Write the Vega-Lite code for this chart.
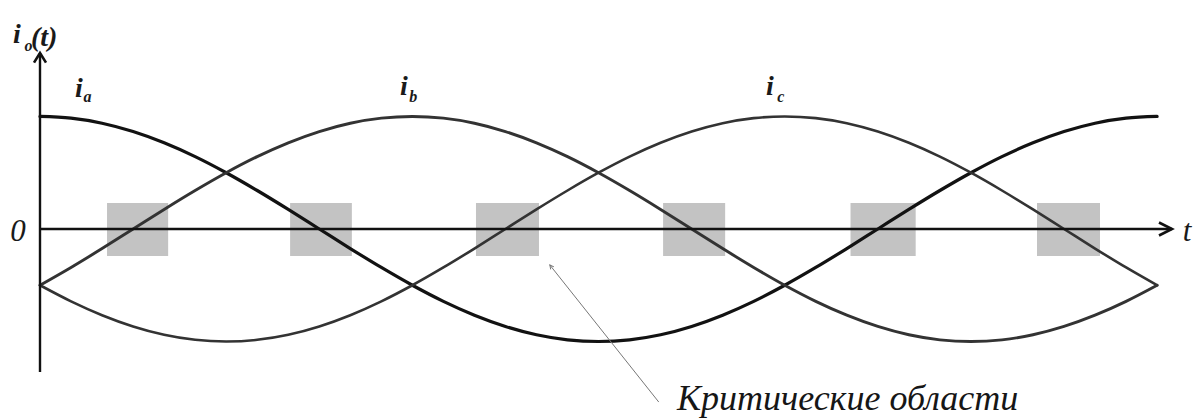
{
  "$schema": "https://vega.github.io/schema/vega-lite/v6.json",
  "width": 1132,
  "height": 319,
  "autosize": {"type": "none"},
  "padding": {"left": 40, "top": 53, "right": 24, "bottom": 46},
  "background": "white",
  "config": {"view": {"stroke": null}},
  "datasets": {
    "curves": [
      {"t": 0, "a": 1, "b": -0.5, "c": -0.5},
      {"t": 10, "a": 0.985, "b": -0.342, "c": -0.643},
      {"t": 20, "a": 0.94, "b": -0.174, "c": -0.766},
      {"t": 30, "a": 0.866, "b": 0, "c": -0.866},
      {"t": 40, "a": 0.766, "b": 0.174, "c": -0.94},
      {"t": 50, "a": 0.643, "b": 0.342, "c": -0.985},
      {"t": 60, "a": 0.5, "b": 0.5, "c": -1},
      {"t": 70, "a": 0.342, "b": 0.643, "c": -0.985},
      {"t": 80, "a": 0.174, "b": 0.766, "c": -0.94},
      {"t": 90, "a": 0, "b": 0.866, "c": -0.866},
      {"t": 100, "a": -0.174, "b": 0.94, "c": -0.766},
      {"t": 110, "a": -0.342, "b": 0.985, "c": -0.643},
      {"t": 120, "a": -0.5, "b": 1, "c": -0.5},
      {"t": 130, "a": -0.643, "b": 0.985, "c": -0.342},
      {"t": 140, "a": -0.766, "b": 0.94, "c": -0.174},
      {"t": 150, "a": -0.866, "b": 0.866, "c": 0},
      {"t": 160, "a": -0.94, "b": 0.766, "c": 0.174},
      {"t": 170, "a": -0.985, "b": 0.643, "c": 0.342},
      {"t": 180, "a": -1, "b": 0.5, "c": 0.5},
      {"t": 190, "a": -0.985, "b": 0.342, "c": 0.643},
      {"t": 200, "a": -0.94, "b": 0.174, "c": 0.766},
      {"t": 210, "a": -0.866, "b": 0, "c": 0.866},
      {"t": 220, "a": -0.766, "b": -0.174, "c": 0.94},
      {"t": 230, "a": -0.643, "b": -0.342, "c": 0.985},
      {"t": 240, "a": -0.5, "b": -0.5, "c": 1},
      {"t": 250, "a": -0.342, "b": -0.643, "c": 0.985},
      {"t": 260, "a": -0.174, "b": -0.766, "c": 0.94},
      {"t": 270, "a": 0, "b": -0.866, "c": 0.866},
      {"t": 280, "a": 0.174, "b": -0.94, "c": 0.766},
      {"t": 290, "a": 0.342, "b": -0.985, "c": 0.643},
      {"t": 300, "a": 0.5, "b": -1, "c": 0.5},
      {"t": 310, "a": 0.643, "b": -0.985, "c": 0.342},
      {"t": 320, "a": 0.766, "b": -0.94, "c": 0.174},
      {"t": 330, "a": 0.866, "b": -0.866, "c": 0},
      {"t": 340, "a": 0.94, "b": -0.766, "c": -0.174},
      {"t": 350, "a": 0.985, "b": -0.643, "c": -0.342},
      {"t": 360, "a": 1, "b": -0.5, "c": -0.5}
    ],
    "regions": [
      {"x": 21.6, "x2": 41.3, "y": 0.231, "y2": -0.24},
      {"x": 80.6, "x2": 100.5, "y": 0.231, "y2": -0.24},
      {"x": 140.5, "x2": 160.8, "y": 0.231, "y2": -0.24},
      {"x": 200.8, "x2": 220.8, "y": 0.231, "y2": -0.24},
      {"x": 261.2, "x2": 282.2, "y": 0.231, "y2": -0.24},
      {"x": 321.3, "x2": 341.6, "y": 0.231, "y2": -0.24}
    ],
    "axes": [
      {"x": 0, "x2": 364.8, "y": 0, "y2": 0},
      {"x": 0, "x2": 0, "y": -1.271, "y2": 1.564}
    ],
    "big": [
      {"x": -8.7, "y": 1.653, "text": "i"},
      {"x": -2.9, "y": 1.627, "text": "(t)"},
      {"x": 11.3, "y": 1.173, "text": "i"},
      {"x": 116.0, "y": 1.191, "text": "i"},
      {"x": 234.0, "y": 1.191, "text": "i"}
    ],
    "plain": [
      {"x": -9.6, "y": -0.11, "text": "0"},
      {"x": 368.3, "y": -0.11, "text": "t"}
    ],
    "sub": [
      {"x": -5.0, "y": 1.58, "text": "o"},
      {"x": 14.0, "y": 1.129, "text": "a"},
      {"x": 119.0, "y": 1.129, "text": "b"},
      {"x": 237.6, "y": 1.129, "text": "c"}
    ]
  },
  "layer": [
    {
      "data": {"name": "regions"},
      "mark": {"type": "rect", "color": "#c3c3c3"},
      "encoding": {
        "x": {"field": "x", "type": "quantitative", "scale": {"domain": [0, 364.8], "nice": false, "zero": false}, "axis": null},
        "x2": {"field": "x2"},
        "y": {"field": "y", "type": "quantitative", "scale": {"domain": [-1.271, 1.564], "nice": false, "zero": false}, "axis": null},
        "y2": {"field": "y2"}
      }
    },
    {
      "data": {"name": "curves"},
      "transform": [{"fold": ["a", "b", "c"], "as": ["phase", "value"]}],
      "mark": {"type": "line", "interpolate": "monotone", "strokeCap": "round"},
      "encoding": {
        "x": {"field": "t", "type": "quantitative", "scale": {"domain": [0, 364.8], "nice": false, "zero": false}, "axis": null},
        "y": {"field": "value", "type": "quantitative", "scale": {"domain": [-1.271, 1.564], "nice": false, "zero": false}, "axis": null},
        "detail": {"field": "phase"},
        "color": {"field": "phase", "type": "nominal", "scale": {"domain": ["a", "b", "c"], "range": ["#121212", "#333333", "#333333"]}, "legend": null},
        "strokeWidth": {"field": "phase", "type": "nominal", "scale": {"domain": ["a", "b", "c"], "range": [3.2, 2.6, 2.6]}, "legend": null}
      }
    },
    {
      "data": {"name": "axes"},
      "mark": {"type": "rule", "color": "#111111", "strokeWidth": 2.4},
      "encoding": {
        "x": {"field": "x", "type": "quantitative", "scale": {"domain": [0, 364.8], "nice": false, "zero": false}, "axis": null},
        "x2": {"field": "x2"},
        "y": {"field": "y", "type": "quantitative", "scale": {"domain": [-1.271, 1.564], "nice": false, "zero": false}, "axis": null},
        "y2": {"field": "y2"}
      }
    },
    {
      "data": {"values": [{"x": 364.8, "y": 0}]},
      "mark": {"type": "point", "shape": "M-2,-1L0,0L-2,1", "size": 169, "filled": false, "stroke": "#111111", "strokeWidth": 2.6, "opacity": 1},
      "encoding": {
        "x": {"field": "x", "type": "quantitative", "scale": {"domain": [0, 364.8], "nice": false, "zero": false}, "axis": null},
        "y": {"field": "y", "type": "quantitative", "scale": {"domain": [-1.271, 1.564], "nice": false, "zero": false}, "axis": null}
      }
    },
    {
      "data": {"values": [{"x": 0, "y": 1.564}]},
      "mark": {"type": "point", "shape": "M-1,1.6L0,0L1,1.6", "size": 144, "filled": false, "stroke": "#111111", "strokeWidth": 2.6, "opacity": 1},
      "encoding": {
        "x": {"field": "x", "type": "quantitative", "scale": {"domain": [0, 364.8], "nice": false, "zero": false}, "axis": null},
        "y": {"field": "y", "type": "quantitative", "scale": {"domain": [-1.271, 1.564], "nice": false, "zero": false}, "axis": null}
      }
    },
    {
      "data": {"values": [{"x": 199.4, "x2": 164.3, "y": -1.538, "y2": -0.32}]},
      "mark": {"type": "rule", "color": "#777777", "strokeWidth": 1},
      "encoding": {
        "x": {"field": "x", "type": "quantitative", "scale": {"domain": [0, 364.8], "nice": false, "zero": false}, "axis": null},
        "x2": {"field": "x2"},
        "y": {"field": "y", "type": "quantitative", "scale": {"domain": [-1.271, 1.564], "nice": false, "zero": false}, "axis": null},
        "y2": {"field": "y2"}
      }
    },
    {
      "data": {"values": [{"x": 164.3, "y": -0.32}]},
      "mark": {"type": "point", "shape": "M-1,2L0,0L1,2", "size": 16, "angle": -38, "filled": false, "stroke": "#777777", "strokeWidth": 1, "opacity": 1},
      "encoding": {
        "x": {"field": "x", "type": "quantitative", "scale": {"domain": [0, 364.8], "nice": false, "zero": false}, "axis": null},
        "y": {"field": "y", "type": "quantitative", "scale": {"domain": [-1.271, 1.564], "nice": false, "zero": false}, "axis": null}
      }
    },
    {
      "data": {"name": "big"},
      "mark": {"type": "text", "font": "Liberation Serif", "fontStyle": "italic", "fontWeight": "bold", "fontSize": 28, "align": "left", "baseline": "alphabetic", "color": "#1a1a1a"},
      "encoding": {
        "x": {"field": "x", "type": "quantitative", "scale": {"domain": [0, 364.8], "nice": false, "zero": false}, "axis": null},
        "y": {"field": "y", "type": "quantitative", "scale": {"domain": [-1.271, 1.564], "nice": false, "zero": false}, "axis": null},
        "text": {"field": "text"}
      }
    },
    {
      "data": {"name": "plain"},
      "mark": {"type": "text", "font": "Liberation Serif", "fontStyle": "italic", "fontSize": 31, "align": "left", "baseline": "alphabetic", "color": "#1a1a1a"},
      "encoding": {
        "x": {"field": "x", "type": "quantitative", "scale": {"domain": [0, 364.8], "nice": false, "zero": false}, "axis": null},
        "y": {"field": "y", "type": "quantitative", "scale": {"domain": [-1.271, 1.564], "nice": false, "zero": false}, "axis": null},
        "text": {"field": "text"}
      }
    },
    {
      "data": {"name": "sub"},
      "mark": {"type": "text", "font": "Liberation Serif", "fontStyle": "italic", "fontWeight": "bold", "fontSize": 16, "align": "left", "baseline": "alphabetic", "color": "#1a1a1a"},
      "encoding": {
        "x": {"field": "x", "type": "quantitative", "scale": {"domain": [0, 364.8], "nice": false, "zero": false}, "axis": null},
        "y": {"field": "y", "type": "quantitative", "scale": {"domain": [-1.271, 1.564], "nice": false, "zero": false}, "axis": null},
        "text": {"field": "text"}
      }
    },
    {
      "data": {"values": [{"x": 205.3, "y": -1.609, "text": "Критические области"}]},
      "mark": {"type": "text", "font": "Liberation Serif", "fontStyle": "italic", "fontSize": 36, "align": "left", "baseline": "alphabetic", "color": "#161616"},
      "encoding": {
        "x": {"field": "x", "type": "quantitative", "scale": {"domain": [0, 364.8], "nice": false, "zero": false}, "axis": null},
        "y": {"field": "y", "type": "quantitative", "scale": {"domain": [-1.271, 1.564], "nice": false, "zero": false}, "axis": null},
        "text": {"field": "text"}
      }
    }
  ]
}
